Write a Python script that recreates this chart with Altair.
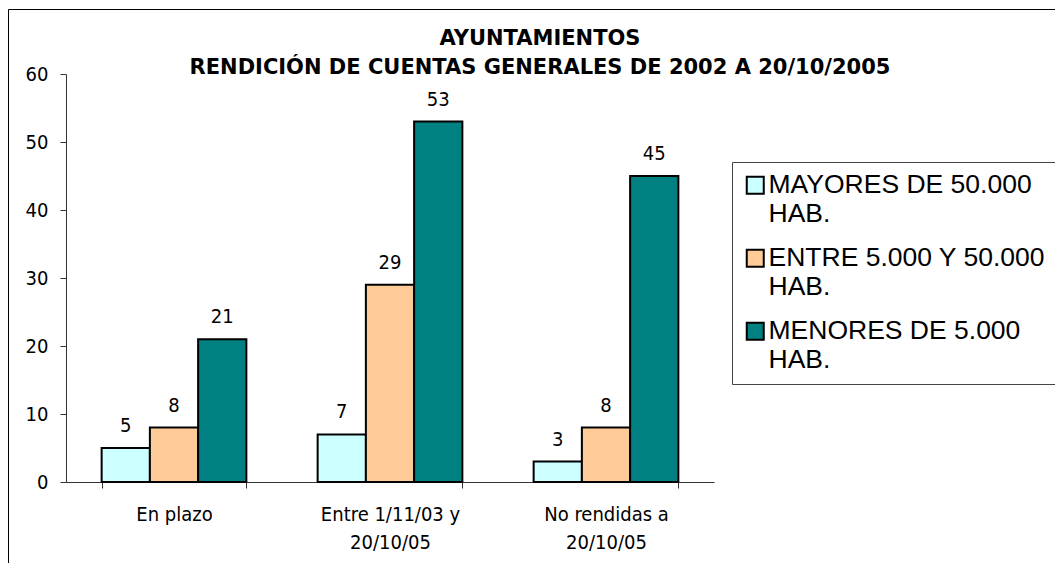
import altair as alt
import pandas as pd

categories = ["En plazo", "Entre 1/11/03 y\n20/10/05", "No rendidas a\n20/10/05"]
series = ["MAYORES DE 50.000\nHAB.", "ENTRE 5.000 Y 50.000\nHAB.", "MENORES DE 5.000\nHAB."]
mayores = [5, 7, 3]
entre = [8, 29, 8]
menores = [21, 53, 45]
colors = ["#CCFFFF", "#FFCC99", "#008080"]
y_ticks = [0, 10, 20, 30, 40, 50, 60]
title_lines = ["AYUNTAMIENTOS", "RENDICIÓN DE CUENTAS GENERALES DE 2002 A 20/10/2005"]

rows = []
for s, vals in zip(series, [mayores, entre, menores]):
    for c, v in zip(categories, vals):
        rows.append({"cat": c, "serie": s, "valor": v})
df = pd.DataFrame(rows)

LABEL_FONT = "DejaVu Sans Condensed, Liberation Sans, sans-serif"

x_enc = alt.X(
    "cat:N", sort=categories, title=None,
    scale=alt.Scale(paddingInner=0.33, paddingOuter=0.165),
    axis=alt.Axis(labelExpr="split(datum.label, '\\n')", labelAngle=0,
                  tickBand="extent", tickSize=6, labelPadding=16,
                  labelLineHeight=28, labelFont=LABEL_FONT, labelFontSize=20,
                  labelColor="black", domainColor="#333", tickColor="#333",
                  labelOverlap=False, labelLimit=300),
)
xoff = alt.XOffset("serie:N", sort=series,
                   scale=alt.Scale(paddingInner=0, paddingOuter=0))
y_enc = alt.Y(
    "valor:Q", title=None,
    scale=alt.Scale(domain=[0, 60], nice=False),
    axis=alt.Axis(values=y_ticks, grid=False, tickSize=6, labelPadding=12,
                  labelFont=LABEL_FONT, labelFontSize=20, labelColor="black",
                  domainColor="#333", tickColor="#333"),
)

color_enc = alt.Color(
    "serie:N", sort=series,
    scale=alt.Scale(domain=series, range=colors),
    legend=alt.Legend(
        title=None, orient="none", legendX=666, legendY=88,
        labelExpr="split(datum.label, '\\n')",
        labelFont="Liberation Sans", labelFontSize=26.5,
        labelColor="black", labelLimit=400, labelOffset=0,
        symbolType="square", symbolSize=289, symbolStrokeColor="black",
        symbolStrokeWidth=2, symbolOpacity=1,
        rowPadding=17, padding=10, strokeColor="#444",
    ),
)

frame = alt.Chart(pd.DataFrame({"k": [0]})).mark_rect(
    fillOpacity=0, stroke="black", strokeWidth=1
).encode(
    x=alt.value(-57.5), x2=alt.value(1200),
    y=alt.value(-64.5), y2=alt.value(700),
)

bars = alt.Chart(df).mark_bar(stroke="black", strokeWidth=2).encode(
    x=x_enc, xOffset=xoff, y=y_enc, color=color_enc,
)

labels = alt.Chart(df).mark_text(
    baseline="alphabetic", dy=-16, font=LABEL_FONT, fontSize=20, color="black"
).encode(
    x=alt.X("cat:N", sort=categories),
    xOffset=alt.XOffset("serie:N", sort=series),
    y=alt.Y("valor:Q"),
    text=alt.Text("valor:Q"),
)

chart = alt.layer(frame, bars, labels).properties(
    width=648, height=408,
    title=alt.Title(
        title_lines, font="DejaVu Sans", fontSize=21, fontWeight="bold",
        lineHeight=29, anchor="middle", frame="group", dx=150, color="black",
        offset=-69,
    ),
    autosize=alt.AutoSizeParams(type="none"),
    padding={"left": 58, "top": 66, "right": 341, "bottom": 81},
).configure(background="white").configure_view(stroke="transparent")

chart.save("out.html", embed_options={"renderer": "svg", "actions": False})
